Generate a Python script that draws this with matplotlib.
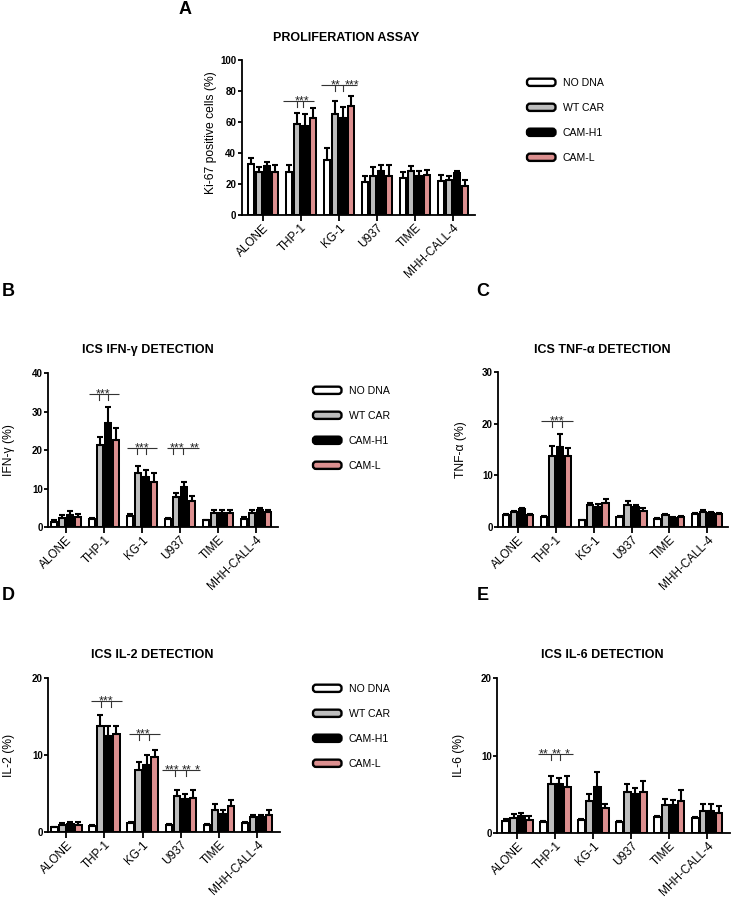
import matplotlib
matplotlib.use('Agg')
import matplotlib.pyplot as plt
import numpy as np
from matplotlib.patches import FancyBboxPatch, Rectangle
from matplotlib.legend_handler import HandlerPatch

plt.rcParams['font.family'] = ['Liberation Sans', 'DejaVu Sans']

# ---------------- data ----------------
groups = ['ALONE', 'THP-1', 'KG-1', 'U937', 'TIME', 'MHH-CALL-4']
series = ['NO DNA', 'WT CAR', 'CAM-H1', 'CAM-L']

# A: Ki-67 proliferation (%)
ki67_no_dna = [32.7, 27.5, 35.5, 21.0, 23.7, 22.2]
ki67_wt_car = [27.5, 58.5, 65.0, 25.4, 28.4, 22.6]
ki67_cam_h1 = [31.6, 57.4, 62.4, 28.4, 25.2, 27.3]
ki67_cam_l = [27.5, 62.8, 70.0, 25.4, 25.8, 19.0]
ki67_no_dna_err = [3.8, 4.5, 7.9, 4.0, 4.3, 3.6]
ki67_wt_car_err = [3.5, 7.5, 8.5, 5.4, 3.4, 2.8]
ki67_cam_h1_err = [2.4, 7.6, 7.1, 3.9, 3.2, 1.2]
ki67_cam_l_err = [4.5, 6.2, 7.0, 6.6, 3.2, 3.6]

# B: IFN-gamma (%)
ifng_no_dna = [1.3, 2.0, 2.9, 2.0, 1.7, 2.2]
ifng_wt_car = [2.3, 21.4, 13.9, 7.8, 3.7, 3.6]
ifng_cam_h1 = [3.2, 27.0, 13.0, 10.4, 3.7, 4.3]
ifng_cam_l = [2.5, 22.7, 11.7, 6.7, 3.7, 3.8]
ifng_no_dna_err = [0.4, 0.3, 0.6, 0.4, 0.2, 0.3]
ifng_wt_car_err = [0.7, 2.0, 1.9, 1.0, 0.6, 0.7]
ifng_cam_h1_err = [1.0, 4.2, 1.7, 1.3, 0.6, 0.7]
ifng_cam_l_err = [1.0, 3.0, 2.2, 1.4, 0.8, 0.7]

# C: TNF-alpha (%)
tnfa_no_dna = [2.4, 1.95, 1.3, 1.95, 1.6, 2.55]
tnfa_wt_car = [2.9, 13.8, 4.35, 4.35, 2.4, 3.0]
tnfa_cam_h1 = [3.4, 15.4, 3.9, 3.9, 1.75, 2.7]
tnfa_cam_l = [2.4, 13.8, 4.7, 3.1, 1.95, 2.55]
tnfa_no_dna_err = [0.2, 0.15, 0.1, 0.15, 0.15, 0.2]
tnfa_wt_car_err = [0.2, 1.9, 0.35, 0.75, 0.2, 0.2]
tnfa_cam_h1_err = [0.3, 2.6, 0.6, 0.45, 0.1, 0.2]
tnfa_cam_l_err = [0.2, 1.5, 0.7, 0.6, 0.15, 0.2]

# D: IL-2 (%)
il2_no_dna = [0.6, 0.75, 1.2, 0.9, 0.9, 1.2]
il2_wt_car = [0.95, 13.8, 8.0, 4.7, 2.8, 1.95]
il2_cam_h1 = [1.05, 12.5, 8.7, 4.3, 2.35, 1.95]
il2_cam_l = [0.95, 12.7, 9.7, 4.4, 3.35, 2.25]
il2_no_dna_err = [0.1, 0.1, 0.1, 0.1, 0.1, 0.1]
il2_wt_car_err = [0.25, 1.4, 1.1, 0.8, 0.8, 0.3]
il2_cam_h1_err = [0.2, 1.3, 1.25, 0.6, 0.55, 0.3]
il2_cam_l_err = [0.4, 1.1, 1.0, 1.0, 0.85, 0.65]

# E: IL-6 (%)
il6_no_dna = [1.6, 1.4, 1.7, 1.4, 2.05, 1.9]
il6_wt_car = [1.95, 6.35, 4.1, 5.35, 3.55, 2.9]
il6_cam_h1 = [2.15, 6.35, 5.9, 5.0, 3.55, 2.9]
il6_cam_l = [1.7, 6.0, 3.2, 5.35, 4.1, 2.6]
il6_no_dna_err = [0.15, 0.1, 0.15, 0.1, 0.15, 0.15]
il6_wt_car_err = [0.55, 1.05, 0.95, 1.0, 0.85, 0.9]
il6_cam_h1_err = [0.45, 0.75, 2.0, 0.85, 0.75, 0.8]
il6_cam_l_err = [0.45, 1.3, 0.5, 1.3, 1.4, 0.85]

# significance annotations: (group, y, stars)
ki67_sig = [(1, 73.5, ['***']), (2, 83.9, ['**', '***'])]
ifng_sig = [(1, 34.6, ['***']), (2, 20.6, ['***']), (3, 20.6, ['***', '**'])]
tnfa_sig = [(1, 20.6, ['***'])]
il2_sig = [(1, 17.0, ['***']), (2, 12.7, ['***']), (3, 8.1, ['***', '**', '*'])]
il6_sig = [(1, 10.2, ['**', '**', '*'])]

# ---------------- style / layout ----------------
W, H = 733, 905
fig = plt.figure(figsize=(W / 100, H / 100), dpi=100)

colors = ['white', '#bdbdbd', 'black', '#dc8f8f']
offsets = [-0.315, -0.105, 0.105, 0.315]
bw = 0.17
EDGE = 1.45


def px_axes(x0, y0, x1, y1):
    return fig.add_axes([x0 / W, 1 - y1 / H, (x1 - x0) / W, (y1 - y0) / H])


class RoundHandler(HandlerPatch):
    def create_artists(self, legend, orig_handle, xdescent, ydescent,
                       width, height, fontsize, trans):
        p = FancyBboxPatch((-xdescent, -ydescent), width, height,
                           boxstyle='round,pad=0,rounding_size=2.2',
                           facecolor=orig_handle.get_facecolor(),
                           edgecolor='black', linewidth=1.7,
                           transform=trans)
        return [p]


# bracket layouts (styling): left, right, tick offsets, star x offsets
bracket_style = {
    ('A', 1): (-0.48, 0.35, [-0.09, 0.07], [0.04]),
    ('A', 2): (-0.47, 0.49, [-0.10, 0.11], [-0.09, 0.35]),
    ('B', 1): (-0.41, 0.40, [-0.14, 0.10], [-0.02]),
    ('B', 2): (-0.39, 0.39, [-0.13, 0.10], [0.0]),
    ('B', 3): (-0.35, 0.50, [-0.19, 0.09], [-0.07, 0.37]),
    ('C', 1): (-0.39, 0.44, [-0.10, 0.15], [0.02]),
    ('D', 1): (-0.35, 0.47, [-0.09, 0.16], [0.03]),
    ('D', 2): (-0.35, 0.46, [-0.09, 0.16], [0.01]),
    ('D', 3): (-0.48, 0.50, [-0.15, 0.13], [-0.24, 0.15, 0.44]),
    ('E', 1): (-0.46, 0.46, [-0.11, 0.11], [-0.32, 0.02, 0.31]),
}


def panel(key, rect, means, errs, ymax, yticks, ylabel, xlim, labelx, labely, sig):
    ax = px_axes(*rect)
    x = np.arange(len(groups))
    handles = []
    for i, (m, e) in enumerate(zip(means, errs)):
        m = np.asarray(m)
        e = np.asarray(e)
        bars = ax.bar(x + offsets[i], m, bw, color=colors[i], edgecolor='black',
                      linewidth=EDGE, zorder=2, label=series[i])
        handles.append(bars.patches[0])
        ax.errorbar(x + offsets[i], m, yerr=[np.zeros_like(m), e], fmt='none',
                    ecolor='black', elinewidth=1.5, capsize=2.4, capthick=1.5,
                    zorder=3)
    ax.set_xlim(*xlim)
    ax.set_ylim(0, ymax)
    ax.set_yticks(yticks)
    ax.set_yticklabels([str(t) for t in yticks], fontweight='bold', fontsize=7)
    ax.set_xticks(x)
    ax.set_xticklabels(groups, rotation=45, ha='right', va='top',
                       rotation_mode='anchor', fontsize=8.5)
    for s in ['top', 'right']:
        ax.spines[s].set_visible(False)
    for s in ['left', 'bottom']:
        ax.spines[s].set_linewidth(1.3)
    ax.tick_params(axis='y', direction='out', length=3, width=1.3, pad=0.8)
    ax.tick_params(axis='x', direction='out', length=4, width=1.3, pad=1)
    ax.set_ylabel(ylabel, fontsize=8.7)
    ax.yaxis.set_label_coords(labelx, labely)
    ax.patch.set_visible(False)

    hpx = (rect[3] - rect[1])
    drop = 6 * ymax / hpx
    for g, yv, stars in sig:
        left, right, ticks, sx = bracket_style[(key, g)]
        ax.plot([g + left, g + right], [yv, yv], color='#333333', lw=0.8,
                zorder=4, solid_capstyle='butt')
        for t in ticks:
            ax.plot([g + t, g + t], [yv, yv - drop], color='#333333', lw=0.8,
                    zorder=4)
        for st, ox in zip(stars, sx):
            ax.annotate(st, xy=(g + ox, yv), xytext=(0, -2.5),
                        textcoords='offset points', ha='center',
                        va='baseline', fontsize=9, color='#222222')
    return ax, handles


def add_legend(handles, x, y):
    fig.legend(handles, series, loc='upper left',
               bbox_to_anchor=(x / W, 1 - y / H), frameon=False,
               borderpad=0, borderaxespad=0, handlelength=2.7,
               handleheight=0.68, handletextpad=0.7, labelspacing=1.42,
               prop={'size': 7.6},
               handler_map={Rectangle: RoundHandler()})


# Panel A
axA, hA = panel('A', (241.5, 60, 475, 215),
                [ki67_no_dna, ki67_wt_car, ki67_cam_h1, ki67_cam_l],
                [ki67_no_dna_err, ki67_wt_car_err, ki67_cam_h1_err, ki67_cam_l_err],
                100, [0, 20, 40, 60, 80, 100], 'Ki-67 positive cells (%)',
                (-0.56, 5.58), -0.106, 0.53, ki67_sig)
add_legend(hA, 527, 78)

# Panel B
axB, hB = panel('B', (48, 373, 278, 527),
                [ifng_no_dna, ifng_wt_car, ifng_cam_h1, ifng_cam_l],
                [ifng_no_dna_err, ifng_wt_car_err, ifng_cam_h1_err, ifng_cam_l_err],
                40, [0, 10, 20, 30, 40], 'IFN-\u03b3 (%)',
                (-0.48, 5.58), -0.143, 0.5, ifng_sig)
add_legend(hB, 313, 386)

# Panel C
axC, hC = panel('C', (498, 372, 728, 527),
                [tnfa_no_dna, tnfa_wt_car, tnfa_cam_h1, tnfa_cam_l],
                [tnfa_no_dna_err, tnfa_wt_car_err, tnfa_cam_h1_err, tnfa_cam_l_err],
                30, [0, 10, 20, 30], 'TNF-\u03b1 (%)',
                (-0.53, 5.55), -0.135, 0.5, tnfa_sig)

# Panel D
axD, hD = panel('D', (48, 678, 280, 832),
                [il2_no_dna, il2_wt_car, il2_cam_h1, il2_cam_l],
                [il2_no_dna_err, il2_wt_car_err, il2_cam_h1_err, il2_cam_l_err],
                20, [0, 10, 20], 'IL-2 (%)',
                (-0.48, 5.6), -0.142, 0.5, il2_sig)
add_legend(hD, 313, 684)

# Panel E
axE, hE = panel('E', (497, 678, 730, 833),
                [il6_no_dna, il6_wt_car, il6_cam_h1, il6_cam_l],
                [il6_no_dna_err, il6_wt_car_err, il6_cam_h1_err, il6_cam_l_err],
                20, [0, 10, 20], 'IL-6 (%)',
                (-0.54, 5.6), -0.137, 0.5, il6_sig)

# titles
def ftext(x, y, s, **kw):
    fig.text(x / W, 1 - y / H, s, ha='center', va='center', **kw)

ftext(346, 38, 'PROLIFERATION ASSAY', fontweight='bold', fontsize=9)
ftext(148, 350, 'ICS IFN-\u03b3 DETECTION', fontweight='bold', fontsize=9)
ftext(602, 350, 'ICS TNF-\u03b1 DETECTION', fontweight='bold', fontsize=9)
ftext(152, 655, 'ICS IL-2 DETECTION', fontweight='bold', fontsize=9)
ftext(602, 655, 'ICS IL-6 DETECTION', fontweight='bold', fontsize=9)

# panel letters
for s, x, y in [('A', 185, 10), ('B', 8, 291), ('C', 483, 291),
                ('D', 8, 596), ('E', 483, 596)]:
    ftext(x, y, s, fontweight='bold', fontsize=13)

fig.savefig('out.png', dpi=100)
